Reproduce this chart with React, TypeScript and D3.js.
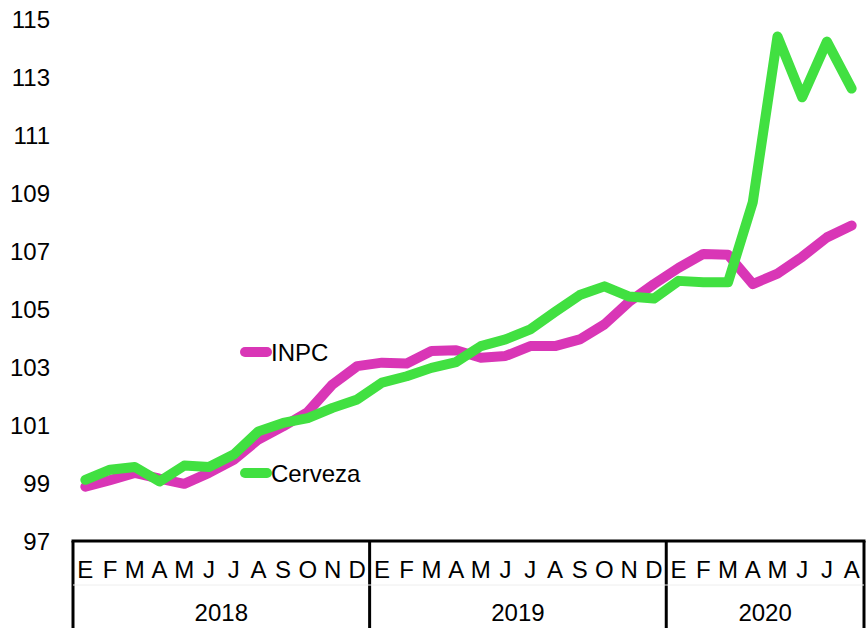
import React, { useEffect, useRef } from 'react';
import * as d3 from 'd3';

// monthly labels (E = enero ... D = diciembre)
const months = ['E', 'F', 'M', 'A', 'M', 'J', 'J', 'A', 'S', 'O', 'N', 'D',
  'E', 'F', 'M', 'A', 'M', 'J', 'J', 'A', 'S', 'O', 'N', 'D',
  'E', 'F', 'M', 'A', 'M', 'J', 'J', 'A'];
const years = [
  { label: '2018', count: 12 },
  { label: '2019', count: 12 },
  { label: '2020', count: 8 },
];
const yTicks = [97, 99, 101, 103, 105, 107, 109, 111, 113, 115];

const inpc = [98.87, 99.1, 99.35, 99.15, 98.97, 99.35, 99.8, 100.5, 100.95, 101.45, 102.4, 103.03,
  103.15, 103.12, 103.55, 103.58, 103.32, 103.38, 103.72, 103.72, 103.95, 104.47, 105.25, 105.86,
  106.42, 106.9, 106.87, 105.86, 106.22, 106.8, 107.47, 107.88];
const cerveza = [99.11, 99.46, 99.55, 99.05, 99.6, 99.55, 99.98, 100.78, 101.07, 101.24, 101.59, 101.88,
  102.46, 102.68, 102.97, 103.17, 103.72, 103.95, 104.3, 104.9, 105.48, 105.78, 105.43, 105.36,
  105.97, 105.92, 105.92, 108.68, 114.4, 112.3, 114.22, 112.6];

const series = [
  { name: 'INPC', values: inpc, color: '#d936b6', legendY: 352 },
  { name: 'Cerveza', values: cerveza, color: '#41e041', legendY: 473 },
];

export default function App() {
  const ref = useRef<SVGSVGElement>(null);

  useEffect(() => {
    const width = 867, height = 628;
    const left = 73, right = 864, axisY = 541;
    const font = '"Liberation Sans", Arial, sans-serif';

    const svg = d3.select(ref.current);
    svg.selectAll('*').remove();

    const x = d3.scaleBand<number>()
      .domain(d3.range(months.length))
      .range([left, right])
      .padding(0);
    const y = d3.scaleLinear().domain([97, 115]).range([axisY, 19]);
    const cx = (i: number) => (x(i) as number) + x.bandwidth() / 2;

    // y labels, no axis line
    svg.append('g')
      .attr('font-family', font)
      .attr('font-size', 24)
      .attr('text-anchor', 'end')
      .selectAll('text')
      .data(yTicks)
      .join('text')
      .attr('x', 50)
      .attr('y', d => y(d))
      .attr('dy', '0.36em')
      .text(d => d);

    // category box below the plot
    const box = svg.append('g').attr('stroke', '#000').attr('stroke-width', 3);
    box.append('line')
      .attr('x1', left - 1.5).attr('x2', right + 1.5)
      .attr('y1', axisY).attr('y2', axisY);
    svg.append('line')
      .attr('x1', left).attr('x2', right)
      .attr('y1', 585).attr('y2', 585)
      .attr('stroke', '#eeeeee').attr('stroke-width', 1);

    let start = 0;
    const groups: { label: string, x0: number, x1: number }[] = [];
    years.forEach(yr => {
      const x0 = x(start) as number;
      const x1 = (x(start + yr.count - 1) as number) + x.bandwidth();
      groups.push({ label: yr.label, x0, x1 });
      start += yr.count;
    });
    const seps = [left, ...groups.map(g => g.x1)];
    box.selectAll('line.sep')
      .data(seps)
      .join('line')
      .attr('class', 'sep')
      .attr('x1', d => d).attr('x2', d => d)
      .attr('y1', axisY).attr('y2', height);

    svg.append('g')
      .attr('font-family', font)
      .attr('font-size', 24)
      .attr('text-anchor', 'middle')
      .selectAll('text')
      .data(months)
      .join('text')
      .attr('x', (d, i) => cx(i))
      .attr('y', 578)
      .text(d => d);

    svg.append('g')
      .attr('font-family', font)
      .attr('font-size', 24)
      .attr('text-anchor', 'middle')
      .selectAll('text')
      .data(groups)
      .join('text')
      .attr('x', d => (d.x0 + d.x1) / 2)
      .attr('y', 621)
      .text(d => d.label);

    const line = d3.line<number>()
      .x((d, i) => cx(i))
      .y(d => y(d));

    // INPC first, Cerveza drawn over it
    svg.append('g')
      .selectAll('path')
      .data(series)
      .join('path')
      .attr('d', d => line(d.values))
      .attr('fill', 'none')
      .attr('stroke', d => d.color)
      .attr('stroke-width', 10)
      .attr('stroke-linejoin', 'round')
      .attr('stroke-linecap', 'round');

    // legend
    const lg = svg.append('g').selectAll('g').data(series).join('g');
    lg.append('line')
      .attr('x1', 245).attr('x2', 267)
      .attr('y1', d => d.legendY).attr('y2', d => d.legendY)
      .attr('stroke', d => d.color)
      .attr('stroke-width', 10)
      .attr('stroke-linecap', 'round');
    lg.append('text')
      .attr('x', 271)
      .attr('y', d => d.legendY)
      .attr('dy', '0.36em')
      .attr('font-family', font)
      .attr('font-size', 24)
      .text(d => d.name);

    svg.attr('width', width).attr('height', height);
  }, []);

  return (
    <svg ref={ref} width={867} height={628}
      style={{ position: 'absolute', left: 0, top: 0, background: '#fff' }} />
  );
}
